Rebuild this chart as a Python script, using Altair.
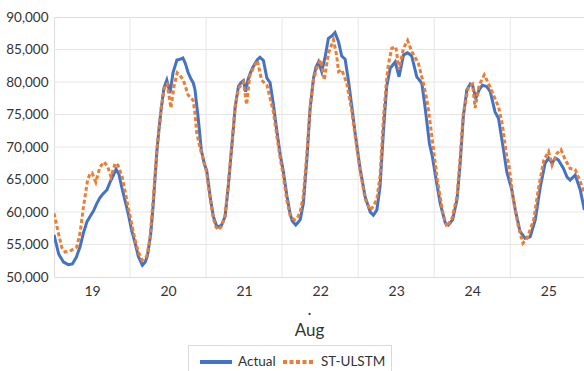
import altair as alt
import pandas as pd

# ---- data (hourly load, Aug 18.5 .. 25.5) ----
start_day = 18.5
day_labels = [19, 20, 21, 22, 23, 24, 25]
day_bounds = [19.5, 20.5, 21.5, 22.5, 23.5, 24.5]
y_ticks = [50000, 55000, 60000, 65000, 70000, 75000, 80000, 85000, 90000]
y_grid = [55000, 60000, 65000, 70000, 75000, 80000, 85000]
series_names = ["Actual", "ST-ULSTM"]

actual_hours = [0, 1.5, 3, 4.5, 5.8, 7, 8.2, 9.3, 10.4, 11.5, 12.5, 13.5, 14.5, 15.5, 16.7, 17.7, 18.7, 19.6,
                20.5, 21.4, 22.4, 23.4, 24.5, 25.6, 26.6, 27.9, 28.8, 29.5, 30.5, 31.3, 32.0, 32.5, 33.2, 33.8,
                34.7, 35.6, 36.6, 37.6, 38.8, 39.8, 40.7, 41.5, 42.3, 43.1, 44.0, 44.5, 45.5, 46.5, 47.5, 48.2,
                49.3, 50.3, 51.2, 51.9, 52.9, 54.0, 55.0, 56.1, 57.2, 58.2, 59.0, 59.8, 60.5, 61.2, 61.9, 62.7,
                63.5, 64.3, 65.0, 66.1, 67.2, 68.2, 69.2, 70.3, 71.4, 72.4, 73.5, 74.5, 75.2, 76.3, 77.7, 78.7,
                79.8, 80.8, 81.9, 82.7, 83.5, 84.5, 85.6, 86.6, 87.7, 88.7, 89.8, 90.8, 91.9, 92.9, 94.0, 95.0,
                96.6, 98.2, 99.8, 100.8, 101.9, 102.9, 104.0, 105.0, 106.1, 107.7, 108.9, 110.3, 111.6, 112.9,
                114.5, 116.1, 117.2, 118.5, 119.4, 120.5, 121.9, 123.5, 124.5, 125.8, 127.2, 128.2, 129.2, 130.3,
                131.4, 132.1, 133.1, 134.2, 135.2, 136.6, 137.7, 139.2, 140.3, 141.9, 142.9, 144.5, 145.6, 147.1,
                148.7, 150.3, 151.9, 153.5, 155.0, 156.1, 157.2, 158.2, 159.2, 160.8, 161.9, 162.9, 164.5, 166.1,
                167.4]
actual_values = [56500, 53500, 52300, 51900, 52000, 53000, 54600, 56800, 58500, 59400, 60200, 61300, 62200,
                 62800, 63400, 64600, 65600, 66600, 65800, 63800, 61800, 59800, 57200, 55200, 53200, 51800,
                 52300, 53300, 56500, 61000, 66000, 69500, 73000, 75700, 79100, 80300, 78300, 81500, 83400,
                 83500, 83700, 82800, 81500, 80600, 79800, 78800, 74500, 69500, 67300, 66400, 62300, 59300,
                 58000, 57700, 58000, 59300, 63900, 70000, 76200, 79300, 79900, 80200, 78500, 80300, 81300,
                 82200, 82900, 83500, 83800, 83300, 80600, 79900, 76700, 72600, 68800, 66200, 62500, 59800,
                 58600, 58000, 58800, 61300, 68000, 75700, 80600, 82300, 83100, 81600, 83900, 86700, 87100,
                 87600, 86200, 84000, 83500, 80300, 76200, 72300, 66700, 62350, 60000, 59500, 60300, 63900,
                 72600, 79300, 82100, 83100, 80800, 84150, 84500, 84000, 80800, 79800, 75800, 70500, 68600,
                 65300, 61300, 58300, 58000, 58800, 61900, 67500, 74700, 78800, 79700, 79500, 77500, 78800,
                 79500, 79300, 78500, 75400, 74400, 69500, 66200, 63400, 60300, 57000, 55950, 56200, 58800,
                 63900, 67500, 68300, 67500, 68300, 68000, 66700, 65400, 64900, 65700, 63400, 60300]

pred_hours = [0, 1.5, 2.5, 3.5, 5, 6.2, 7.2, 8.3, 9.3, 10.6, 11.3, 12.0, 13.2, 14.5, 15.8, 17.0, 18.0, 19.3,
              20.2, 21.5, 22.5, 23.4, 24.5, 25.6, 26.6, 27.8, 29.3, 30.3, 31.3, 32.5, 33.8, 35.0, 35.7, 36.9,
              37.9, 38.9, 39.8, 40.8, 41.5, 42.3, 43.0, 43.9, 44.5, 45.0, 46.0, 47.3, 48.2, 49.3, 50.3, 51.0,
              51.8, 52.9, 54.0, 55.0, 56.1, 57.2, 58.2, 59.8, 60.8, 61.8, 63.5, 64.2, 65.5, 67.2, 68.2, 69.2,
              70.3, 71.4, 72.4, 73.5, 74.5, 75.3, 76.0, 77.0, 77.7, 78.7, 79.8, 80.8, 81.9, 83.2, 84.2, 85.3,
              86.6, 88.2, 89.2, 89.8, 90.8, 92.4, 94.0, 95.0, 96.6, 98.2, 99.8, 100.8, 101.9, 102.9, 104.0,
              105.0, 105.6, 106.6, 107.9, 108.9, 110.3, 111.6, 112.9, 115.0, 116.6, 117.4, 118.2, 119.3, 121.0,
              122.4, 122.9, 124.0, 125.6, 127.2, 128.2, 129.2, 130.8, 132.1, 132.9, 134.2, 135.8, 137.1, 138.7,
              140.3, 141.5, 142.9, 143.5, 145.1, 146.6, 148.0, 149.3, 151.4, 153.0, 154.6, 156.1, 157.2, 158.7,
              160.0, 161.4, 162.9, 164.5, 166.1, 167.4]
pred_values = [59800, 56500, 54500, 53850, 54000, 54300, 54600, 57000, 60800, 64900, 65800, 66000, 64600,
               66900, 67700, 66900, 65400, 67500, 67200, 65400, 63000, 60800, 58200, 55700, 53900, 52600,
               53200, 56000, 61850, 69700, 76000, 79500, 79700, 76000, 79400, 81400, 81000, 80300, 79300,
               78000, 77700, 77200, 75200, 72300, 70000, 67800, 66000, 62000, 59000, 57800, 57230, 57800,
               59500, 64200, 70300, 76300, 79000, 80000, 76500, 81000, 82700, 83300, 80300, 79500, 77500,
               75500, 71800, 68200, 65500, 61800, 59500, 59000, 58800, 59300, 60000, 62500, 69000, 76000,
               80300, 82600, 83400, 80300, 84400, 86500, 84100, 81600, 81900, 79800, 75500, 71800, 66500,
               62000, 60300, 60900, 62000, 65500, 74600, 80500, 82900, 85200, 85400, 81900, 85200, 86400,
               84700, 82900, 79800, 78000, 75700, 71500, 64900, 60800, 59500, 57700, 59000, 62400, 68500,
               75200, 79300, 79700, 76000, 79500, 81100, 79800, 78000, 76200, 73500, 68500, 67500, 61500,
               57700, 55200, 55950, 58800, 63900, 68000, 69300, 67200, 69000, 69600, 68000, 66700, 66500,
               64700, 62900]

# ---- build table ----
df = pd.concat([
    pd.DataFrame({"hour": actual_hours, "value": actual_values, "series": series_names[0]}),
    pd.DataFrame({"hour": pred_hours, "value": pred_values, "series": series_names[1]}),
], ignore_index=True)
df["day"] = start_day + df["hour"] / 24.0

x_scale = alt.Scale(domain=[18.5, 25.47], nice=False, zero=False)
y_scale = alt.Scale(domain=[50000, 90000], nice=False, zero=False)

x_axis = alt.Axis(values=day_labels, format="d", grid=False, ticks=False, domain=False,
                  labelFontSize=14, labelPadding=7, labelColor="#333333",
                  title=[".", "Aug"], titleFontSize=17, titleFontWeight="normal",
                  titleColor="#333333", titleX=255, titleY=37, titleBaseline="alphabetic",
                  titleLineHeight=21)
y_axis = alt.Axis(values=y_ticks, format=",.0f", grid=False, ticks=False, domain=False,
                  labelFontSize=13.5, labelPadding=6, labelColor="#333333", title=None)

legend_cfg = alt.Legend(
    title=None, orient="none", direction="horizontal", legendX=134, legendY=328,
    labelFontSize=13.5, labelColor="#333333", labelFont="Lato",
    symbolType="M-1.6,0H1.6", symbolStrokeWidth=4, symbolSize=400,
    symbolOffset=11, labelOffset=10, columnPadding=-1,
    strokeColor="#d9d9d9", padding=5,
)

vgrid = alt.Chart(pd.DataFrame({"day": day_bounds})).mark_rule(
    color="#e6e6e6", strokeWidth=1
).encode(x=alt.X("day:Q", scale=x_scale, axis=x_axis))

hgrid = alt.Chart(pd.DataFrame({"value": y_grid})).mark_rule(
    color="#e6e6e6", strokeWidth=1
).encode(y=alt.Y("value:Q", scale=y_scale, axis=y_axis))

lines = alt.Chart(df).mark_line(strokeWidth=3, clip=True).encode(
    x=alt.X("day:Q", scale=x_scale, axis=x_axis),
    y=alt.Y("value:Q", scale=y_scale, axis=y_axis),
    color=alt.Color("series:N", scale=alt.Scale(domain=series_names, range=["#4472C4", "#ED7D31"]),
                    legend=legend_cfg),
    strokeDash=alt.StrokeDash("series:N", scale=alt.Scale(domain=series_names, range=[[1, 0], [4, 2.5]]),
                              legend=legend_cfg),
    order=alt.Order("hour:Q"),
)

chart = alt.layer(vgrid, hgrid, lines).properties(
    width=530, height=260,
    padding={"left": 54, "top": 17, "right": 0, "bottom": 94},
    autosize=alt.AutoSizeParams(type="none"),
).configure_view(stroke=None).configure(font="Lato")

chart.save("out.html", embed_options={"renderer": "svg", "actions": False})
